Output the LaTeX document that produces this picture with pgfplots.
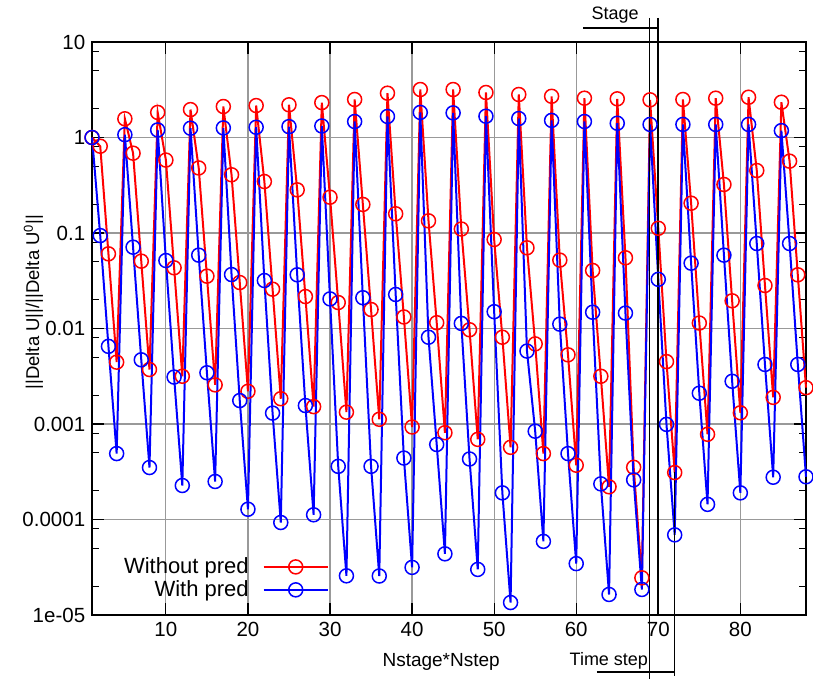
\documentclass[border=0pt]{standalone}
\usepackage{fontspec}
\setmainfont{Liberation Sans}
\usepackage{pgfplots}
\usepackage{pgfplotstable}
\pgfplotsset{compat=1.18}
\pgfplotstableread{
x y
1 1
2 0.81
3 0.0605
4 0.00444
5 1.57
6 0.685
7 0.0507
8 0.00372
9 1.83
10 0.58
11 0.0432
12 0.00316
13 1.96
14 0.48
15 0.0353
16 0.00257
17 2.11
18 0.407
19 0.0303
20 0.0022
21 2.16
22 0.346
23 0.0258
24 0.00184
25 2.2
26 0.283
27 0.0216
28 0.00152
29 2.32
30 0.237
31 0.0187
32 0.00133
33 2.5
34 0.199
35 0.0158
36 0.00112
37 2.91
38 0.159
39 0.0132
40 0.00093
41 3.18
42 0.134
43 0.0115
44 0.00081
45 3.18
46 0.11
47 0.0097
48 0.00069
49 2.96
50 0.0855
51 0.0081
52 0.00057
53 2.82
54 0.07
55 0.0069
56 0.00049
57 2.7
58 0.052
59 0.0053
60 0.00037
61 2.58
62 0.0405
63 0.00316
64 0.00022
65 2.54
66 0.055
67 0.000352
68 0.0000245
69 2.48
70 0.112
71 0.0045
72 0.00031
73 2.5
74 0.205
75 0.0114
76 0.00078
77 2.58
78 0.322
79 0.0195
80 0.00131
81 2.64
82 0.451
83 0.0282
84 0.0019
85 2.34
86 0.565
87 0.0365
88 0.0024
}\redtab
\pgfplotstableread{
x y
1 1
2 0.094
3 0.0065
4 0.00049
5 1.07
6 0.071
7 0.0047
8 0.00035
9 1.2
10 0.0515
11 0.0031
12 0.000227
13 1.25
14 0.0586
15 0.00344
16 0.00025
17 1.26
18 0.0367
19 0.00176
20 0.000128
21 1.28
22 0.0318
23 0.0013
24 0.000093
25 1.3
26 0.0365
27 0.00156
28 0.000112
29 1.32
30 0.0204
31 0.00036
32 0.0000257
33 1.47
34 0.021
35 0.00036
36 0.0000256
37 1.66
38 0.0227
39 0.00044
40 0.0000315
41 1.83
42 0.0081
43 0.00061
44 0.0000437
45 1.81
46 0.0113
47 0.00043
48 0.00003
49 1.67
50 0.015
51 0.00019
52 0.0000135
53 1.58
54 0.0058
55 0.00084
56 0.000059
57 1.51
58 0.0111
59 0.00049
60 0.0000345
61 1.47
62 0.0148
63 0.000236
64 0.0000164
65 1.41
66 0.0145
67 0.00026
68 0.0000185
69 1.37
70 0.0327
71 0.00099
72 0.000069
73 1.37
74 0.0483
75 0.0021
76 0.000144
77 1.37
78 0.0586
79 0.0028
80 0.00019
81 1.37
82 0.0776
83 0.0042
84 0.000277
85 1.18
86 0.0776
87 0.0042
88 0.00028
}\bluetab
\begin{document}
\fontsize{20}{24}\selectfont
\begin{tikzpicture}
\begin{axis}[
  scale only axis, width=714pt, height=573pt,
  ymode=log, xmin=1, xmax=88, ymin=1e-5, ymax=10,
  clip=false,
  xtick={10,20,30,40,50,60,70,80},
  ytick={1e-5,1e-4,1e-3,1e-2,1e-1,1,10},
  yticklabels={1e-05,0.0001,0.001,0.01,0.1,1,10},
  minor ytick={2e-5,5e-5,8e-5,2e-4,5e-4,8e-4,2e-3,5e-3,8e-3,2e-2,5e-2,8e-2,0.2,0.5,0.8,2,5,8},
  grid=major,
  major grid style={black!40, line width=1.2pt},
  tick align=inside,
  major tick length=12pt, minor tick length=7pt,
  every tick/.style={black, line width=1.2pt},
  axis line style={black, line width=1.5pt},
  /pgf/number format/assume math mode=true,
  tick label style={font=\fontsize{20.5}{24}\selectfont},
  xlabel={Nstage*Nstep},
  xlabel style={at={(axis description cs:0.489,-0.082)}, anchor=center, font=\fontsize{19}{22}\selectfont},
  ylabel={||Delta U||/||Delta U\textsuperscript{0}||},
  ylabel style={at={(axis description cs:-0.082,0.546)}, anchor=center, font=\fontsize{18.5}{22}\selectfont},
  legend style={at={(axis description cs:0.336,0.02)}, anchor=south east, draw=none, fill=none,
    font=\fontsize{22}{26}\selectfont, row sep=0pt},
  legend cell align=right,
  legend plot pos=right,
  legend image code/.code={\draw[mark repeat=2,mark phase=2,#1] plot coordinates {(0pt,0pt) (32pt,0pt) (64pt,0pt)};},
]
\addplot[red, line width=2pt, mark=o, mark size=7pt, mark options={line width=1.5pt}] table[x=x,y=y]{\redtab};
\addlegendentry{Without pred\rule{12pt}{0pt}}
\addplot[blue, line width=2pt, mark=o, mark size=7pt, mark options={line width=1.5pt}] table[x=x,y=y]{\bluetab};
\addlegendentry{With pred\rule{12pt}{0pt}}
% annotation overlay
\draw[black, line width=1.3pt] (rel axis cs:0.7812,1.0419) -- (rel axis cs:0.7812,-0.1117);
\draw[black, line width=1.3pt] (rel axis cs:0.7927,1.0419) -- (rel axis cs:0.7927,0);
\draw[black, line width=1.3pt] (rel axis cs:0.8157,0.25) -- (rel axis cs:0.8157,-0.106);
\draw[black, line width=1.3pt] (rel axis cs:0.6877,1.0244) -- (rel axis cs:0.7927,1.0244);
\draw[black, line width=1.3pt] (rel axis cs:0.707,-0.0995) -- (rel axis cs:0.8165,-0.0995);
\node[anchor=base, font=\fontsize{18}{21}\selectfont, inner sep=0pt] at (rel axis cs:0.7325,1.0384) {Stage};
\node[anchor=base east, font=\fontsize{18}{21}\selectfont, inner sep=0pt] at (rel axis cs:0.779,-0.0873) {Time step};
\path (rel axis cs:-0.1289,-0.1117) rectangle (rel axis cs:1.0098,1.0733);
\end{axis}
\end{tikzpicture}
\end{document}
